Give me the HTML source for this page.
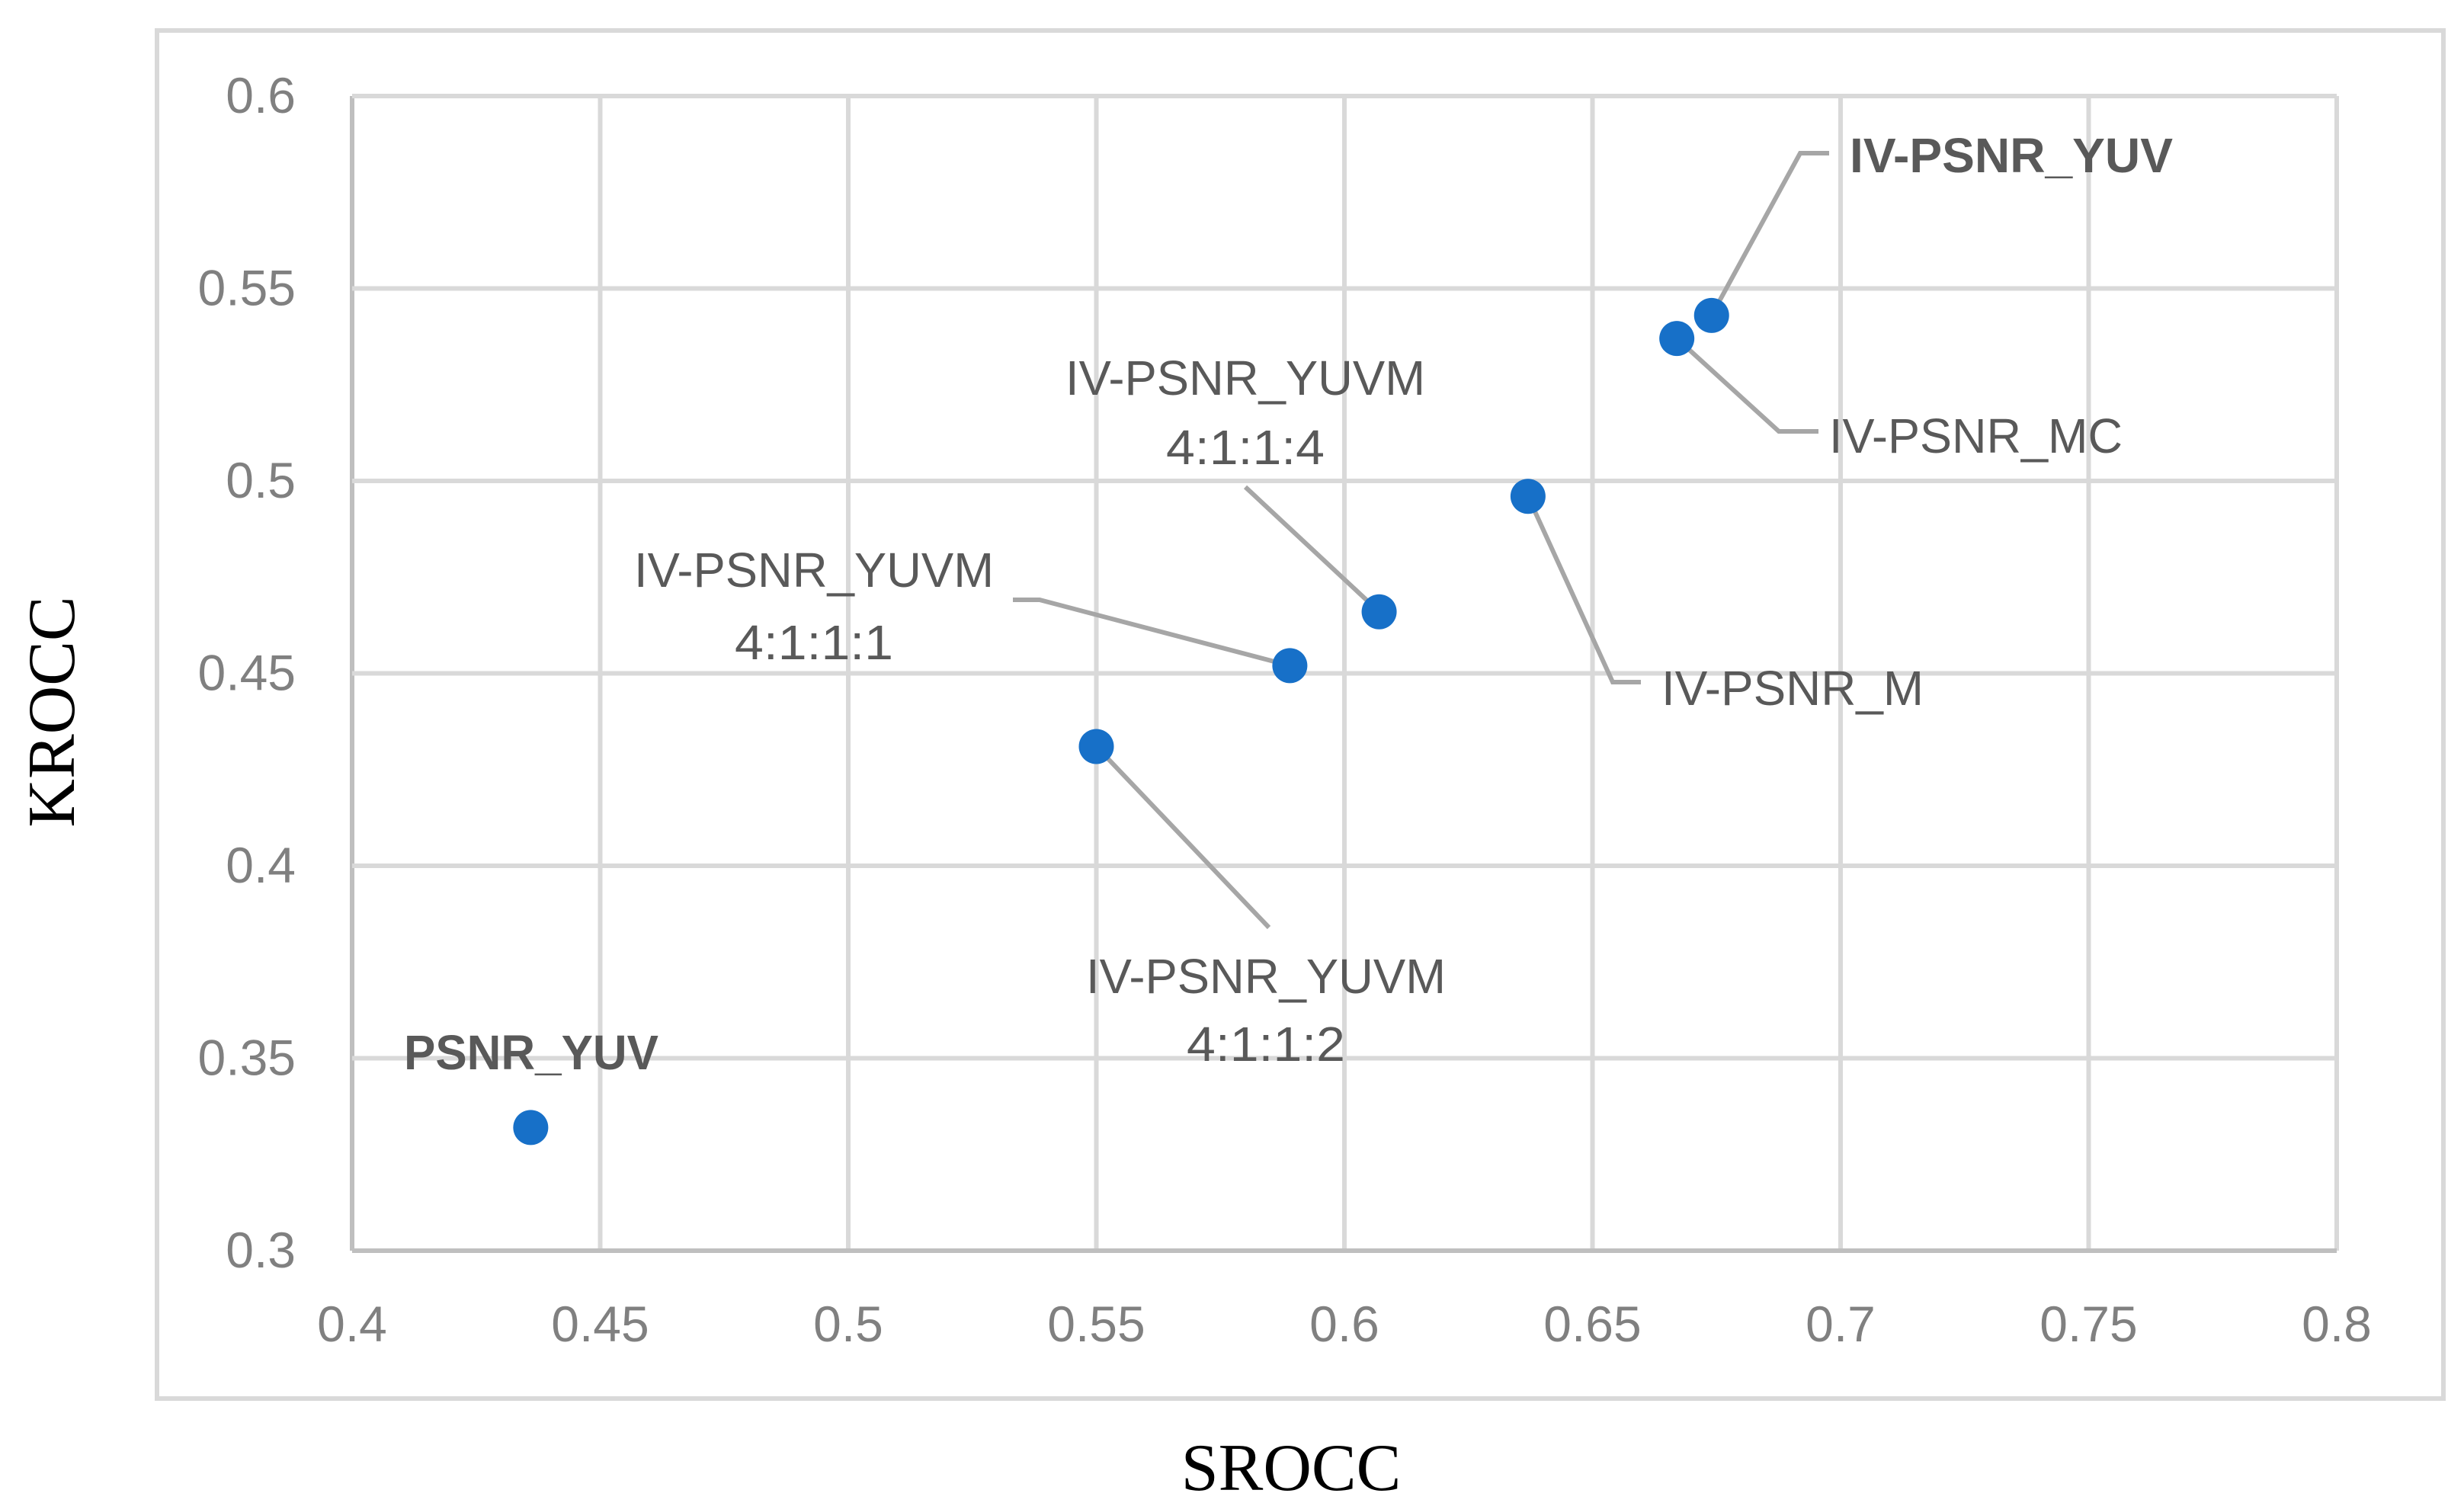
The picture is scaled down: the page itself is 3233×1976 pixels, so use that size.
<!DOCTYPE html>
<html><head><meta charset="utf-8"><style>html,body{margin:0;padding:0;background:#fff}svg{display:block}</style></head>
<body>
<svg id="chart" xmlns="http://www.w3.org/2000/svg" width="3233" height="1976" viewBox="0 0 3233 1976">
<rect x="206" y="40" width="3000" height="1795" fill="#fff" stroke="#d9d9d9" stroke-width="6"/>
<g id="grid"></g><g id="ticks"></g><g id="leaders"></g><g id="points"></g><g id="labels"></g>
<text transform="translate(97,934) rotate(-90)" text-anchor="middle" font-family="Liberation Serif, serif" font-size="88" fill="#000">KROCC</text>
<text x="1694" y="1955" text-anchor="middle" font-family="Liberation Serif, serif" font-size="88" fill="#000">SROCC</text>
</svg>
<script>
const xTicks = [0.4,0.45,0.5,0.55,0.6,0.65,0.7,0.75,0.8];
const yTicks = [0.3,0.35,0.4,0.45,0.5,0.55,0.6];
const names = ["PSNR_YUV","IV-PSNR_YUVM 4:1:1:2","IV-PSNR_YUVM 4:1:1:1","IV-PSNR_YUVM 4:1:1:4","IV-PSNR_M","IV-PSNR_MC","IV-PSNR_YUV"];
const srocc = [0.436,0.550,0.589,0.607,0.637,0.667,0.674];
const krocc = [0.332,0.431,0.452,0.466,0.496,0.537,0.543];
const X0=462,X1=3066,Y0=1641,Y1=126;
function sx(v){return X0+(v-0.4)/0.4*(X1-X0);}
function sy(v){return Y0-(v-0.3)/0.3*(Y0-Y1);}
const NS="http://www.w3.org/2000/svg";
function mk(tag,attrs,parent){const e=document.createElementNS(NS,tag);for(const k in attrs)e.setAttribute(k,attrs[k]);document.getElementById(parent).appendChild(e);return e;}
xTicks.forEach((t,i)=>{
  const l=mk('line',{x1:sx(t),x2:sx(t),y1:Y1,y2:Y0,stroke:i===0?'#bfbfbf':'#d9d9d9','stroke-width':6},'grid');
  
  
  const tx=mk('text',{x:sx(t),y:1760,'text-anchor':'middle','font-family':'Liberation Sans, sans-serif','font-size':66,fill:'#808080'},'ticks');
  tx.textContent=String(t);
  
  
});
yTicks.forEach((t,i)=>{
  const l=mk('line',{x1:X0,x2:X1,y1:sy(t),y2:sy(t),stroke:i===0?'#bfbfbf':'#d9d9d9','stroke-width':6},'grid');
  
  
  const tx=mk('text',{x:388,y:sy(t)+22,'text-anchor':'end','font-family':'Liberation Sans, sans-serif','font-size':66,fill:'#808080'},'ticks');
  tx.textContent=String(t);
  
  
});
const lay=[
 {lines:["PSNR_YUV"],a:'start',x:530,y:[1403],b:true,w:[334],lead:null},
 {lines:["IV-PSNR_YUVM","4:1:1:2"],a:'middle',x:1661,y:[1303,1392],b:false,w:[472,208],lead:[[1665,1217]]},
 {lines:["IV-PSNR_YUVM","4:1:1:1"],a:'middle',x:1068,y:[770,865],b:false,w:[472,208],lead:[[1364,787],[1329,787]]},
 {lines:["IV-PSNR_YUVM","4:1:1:4"],a:'middle',x:1634,y:[518,609],b:false,w:[472,208],lead:[[1634,639]]},
 {lines:["IV-PSNR_M"],a:'start',x:2180,y:[925],b:false,w:[344],lead:[[2116,895],[2153,895]]},
 {lines:["IV-PSNR_MC"],a:'start',x:2400,y:[594],b:false,w:[385],lead:[[2334,566],[2386,566]]},
 {lines:["IV-PSNR_YUV"],a:'start',x:2427,y:[226],b:true,w:[424],lead:[[2362,201],[2400,201]]}
];
srocc.forEach((v,i)=>{
  const px=sx(v),py=sy(krocc[i]);
  const L=lay[i];
  if(L.lead){
    const pts=[[px,py]].concat(L.lead).map(p=>p.join(',')).join(' ');
    const pl=mk('polyline',{points:pts,fill:'none',stroke:'#a6a6a6','stroke-width':6},'leaders');
    
    
  }
  const c=mk('circle',{cx:px,cy:py,r:23,fill:'#1770c8'},'points');
  
  
  L.lines.forEach((s,j)=>{
    const t=mk('text',{x:L.x,y:L.y[j],'text-anchor':L.a,'font-family':'Liberation Sans, sans-serif','font-size':64,'font-weight':L.b?'bold':'normal',fill:'#595959',textLength:L.w[j],lengthAdjust:'spacingAndGlyphs'},'labels');
    t.textContent=s;
    
    
  });
});
</script>
</body></html>
